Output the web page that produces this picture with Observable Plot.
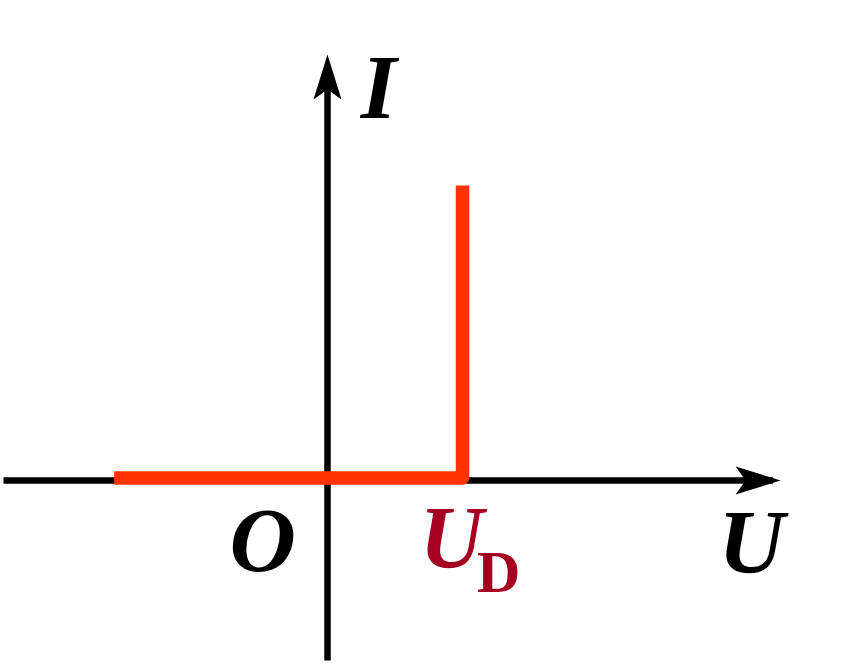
<!DOCTYPE html>
<html>
<head>
<meta charset="utf-8">
<script src="https://cdn.jsdelivr.net/npm/d3@7"></script>
<script src="https://cdn.jsdelivr.net/npm/@observablehq/plot@0.6"></script>
<style>
  html, body { margin: 0; padding: 0; background: #ffffff; }
  #chart svg { display: block; }
</style>
</head>
<body>
<div id="chart"></div>
<script>
// Axis extents (data units: U horizontal, I vertical)
const xAxisU = [-2.4, 3.3];
const xAxisI = [0, 0];
const yAxisU = [0, 0];
const yAxisI = [-1.8, 4.1];
// Arrow tips
const tipU = [3.356, 0];
const tipI = [0, 4.26];
// Ideal diode characteristic curve (red)
const curveU = [-1.58, 1.0, 1.0];
const curveI = [0.025, 0.025, 2.95];
// Labels
const labels = ["I", "O", "U"];
const labelU = [0.378, -0.48, 3.14];
const labelI = [3.92, -0.606, -0.626];
const udMain = "U", udSub = "D";
const udMainPos = [0.919, -0.585];
const udSubPos = [1.267, -0.925];

// Filled, notched arrowhead symbol (tip at origin, pointing to +x)
const arrowHead = {
  draw(context, size) {
    const k = Math.sqrt(size / Math.PI) / 45;
    context.moveTo(0, 0);
    context.lineTo(-45 * k, -14 * k);
    context.lineTo(-35 * k, 0);
    context.lineTo(-45 * k, 14 * k);
    context.closePath();
  }
};

const xAxisData = xAxisU.map((u, i) => ({u, i: xAxisI[i]}));
const yAxisData = yAxisU.map((u, i) => ({u, i: yAxisI[i]}));
const curve = curveU.map((u, i) => ({u, i: curveI[i]}));
const tips = [
  {u: tipU[0], i: tipU[1], rot: 0},
  {u: tipI[0], i: tipI[1], rot: -90}
];
const labelData = labels.map((t, k) => ({t, u: labelU[k], i: labelI[k]}));

const serif = "'Liberation Serif', 'Times New Roman', 'DejaVu Serif', serif";

const chart = Plot.plot({
  width: 858,
  height: 664,
  margin: 0,
  x: {domain: [-2.422, 3.933], range: [0, 858], axis: null},
  y: {domain: [-1.84, 4.8], range: [664, 0], axis: null},
  style: {background: "#ffffff", overflow: "visible"},
  marks: [
    Plot.line(xAxisData, {x: "u", y: "i", stroke: "#000000", strokeWidth: 6.5, strokeLinecap: "butt"}),
    Plot.line(yAxisData, {x: "u", y: "i", stroke: "#000000", strokeWidth: 6.5, strokeLinecap: "butt"}),
    Plot.dot(tips, {x: "u", y: "i", rotate: "rot", symbol: arrowHead, r: 45, fill: "#000000", stroke: "none"}),
    Plot.line(curve, {x: "u", y: "i", stroke: "#FF3300", strokeWidth: 13.5, strokeLinejoin: "round", strokeLinecap: "butt"}),
    Plot.text(labelData, {x: "u", y: "i", text: "t", fontFamily: serif, fontWeight: "bold", fontStyle: "italic", fontSize: 92, fill: "#000000", textAnchor: "middle"}),
    Plot.text([udMain], {x: () => udMainPos[0], y: () => udMainPos[1], text: d => d, fontFamily: serif, fontWeight: "bold", fontStyle: "italic", fontSize: 88, fill: "#A50021", textAnchor: "middle"}),
    Plot.text([udSub], {x: () => udSubPos[0], y: () => udSubPos[1], text: d => d, fontFamily: serif, fontWeight: "bold", fontSize: 60, fill: "#A50021", textAnchor: "middle"})
  ]
});
document.getElementById("chart").appendChild(chart);
</script>
</body>
</html>
